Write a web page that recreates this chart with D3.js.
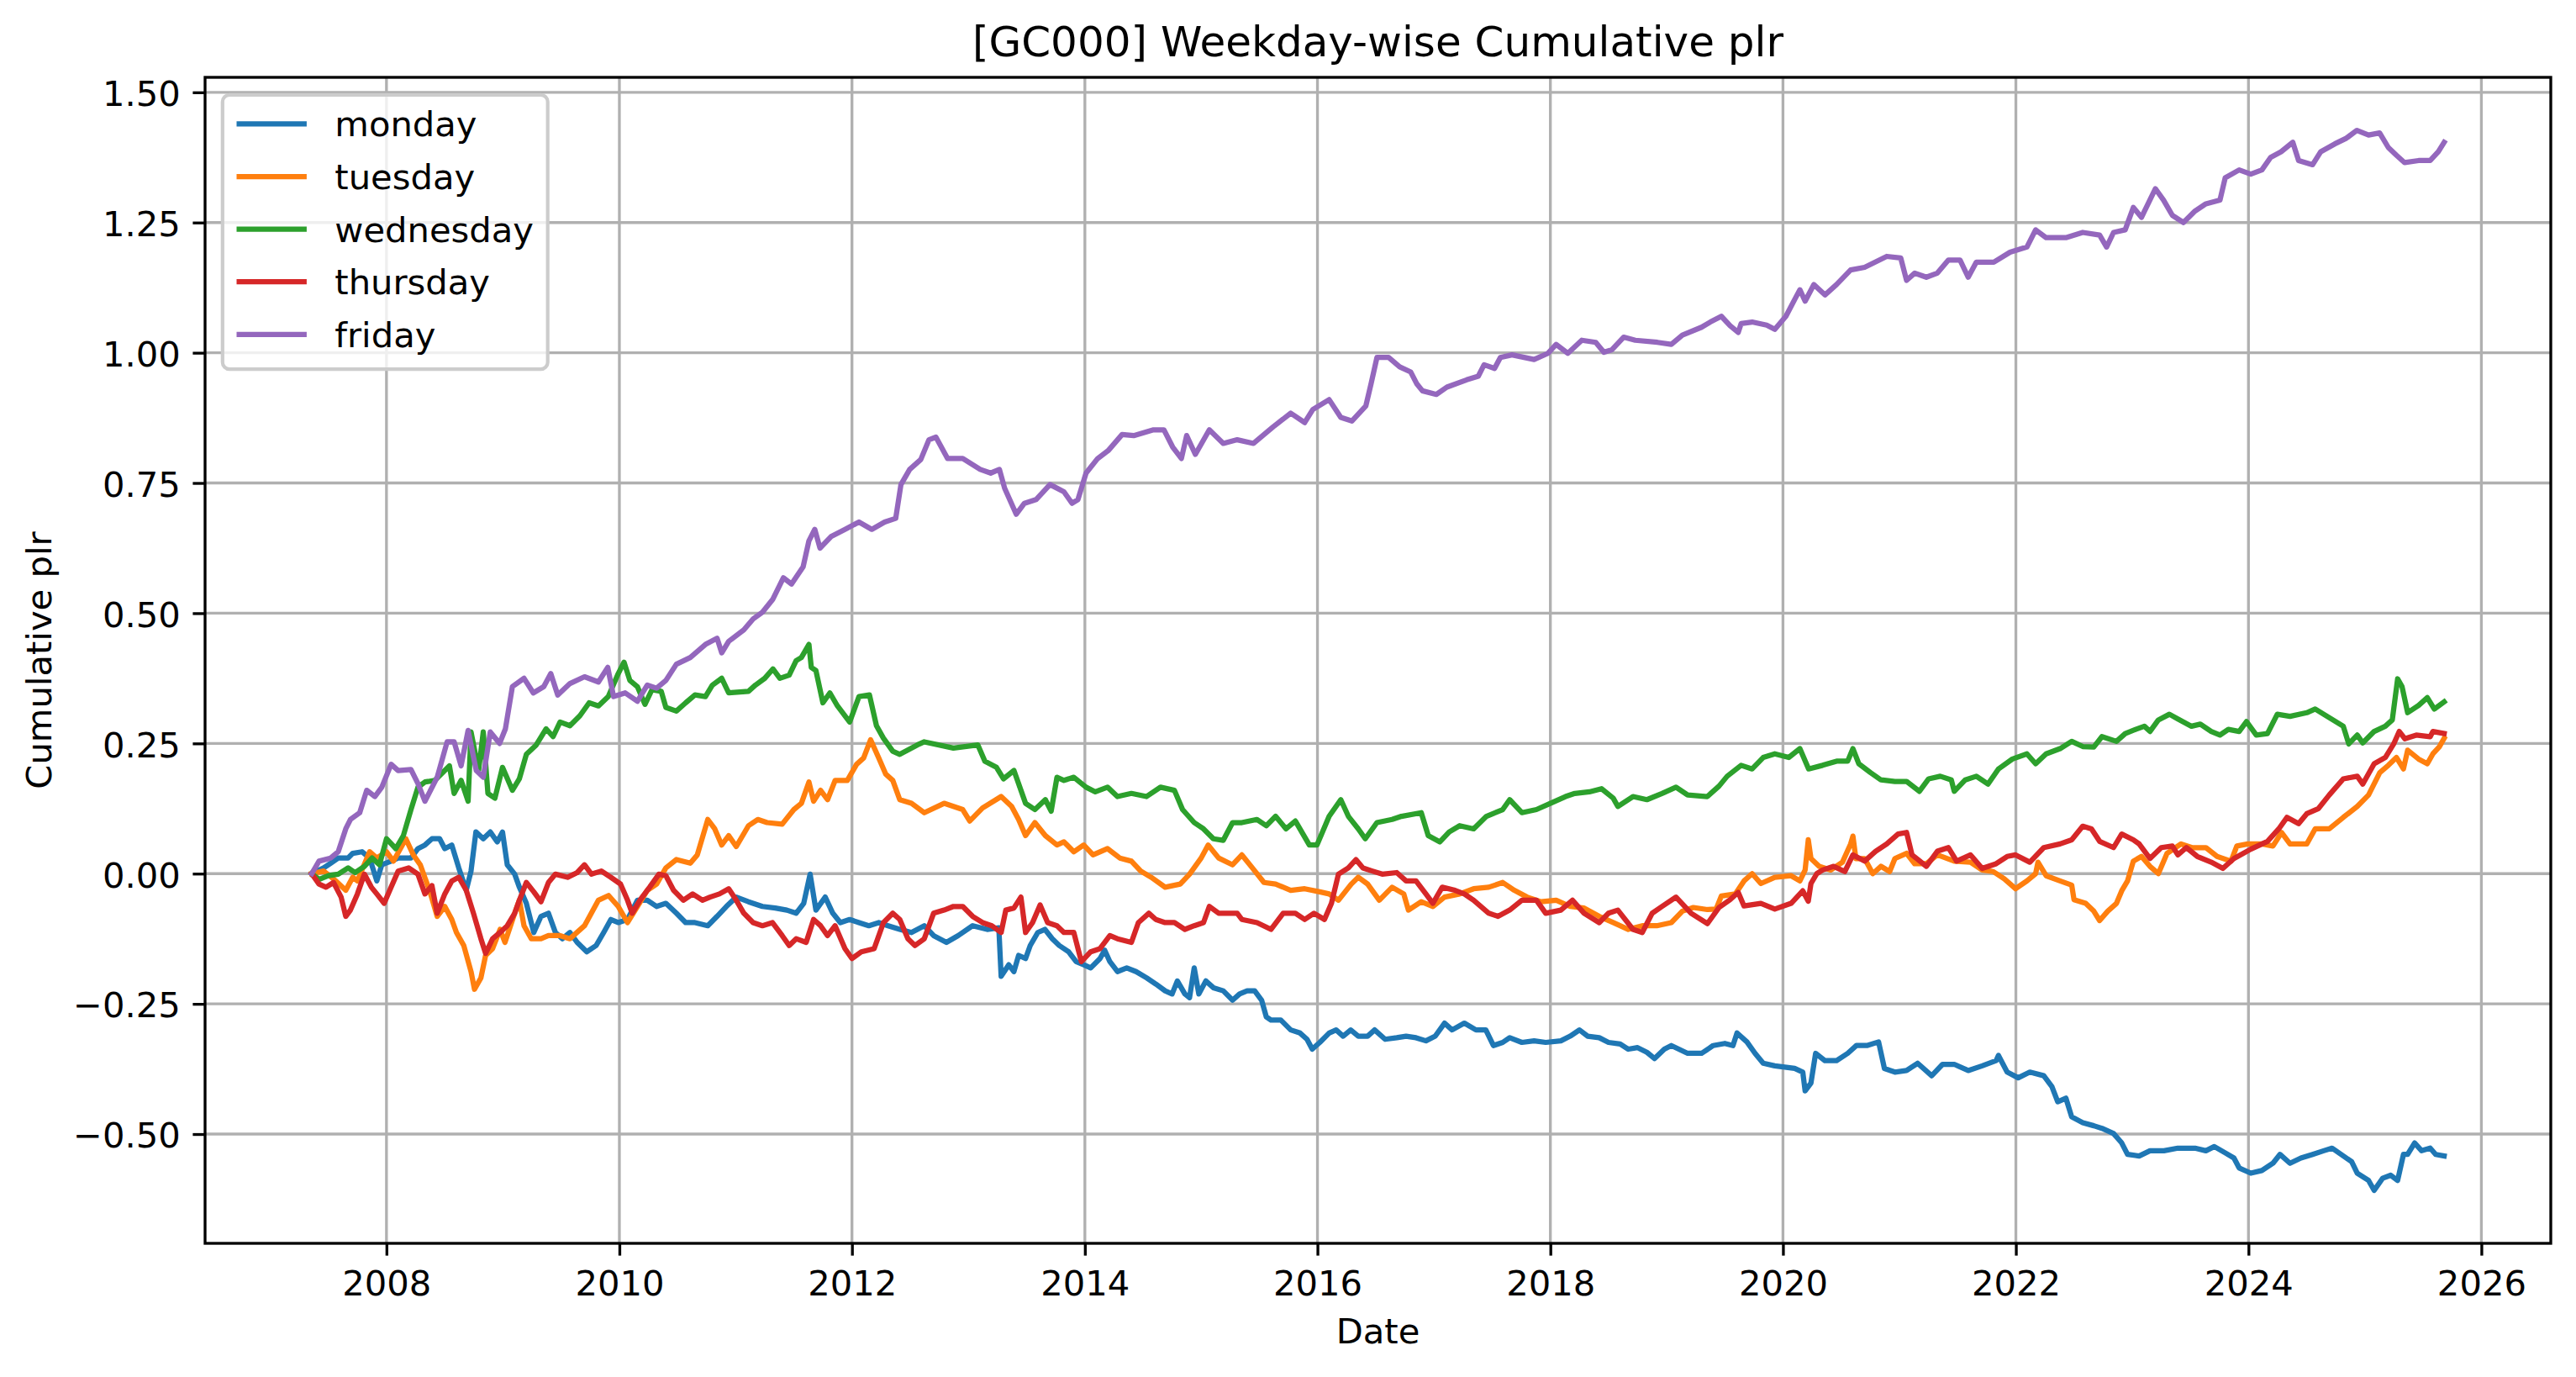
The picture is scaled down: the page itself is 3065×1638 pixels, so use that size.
<!DOCTYPE html>
<html>
<head>
<meta charset="utf-8">
<script src="https://cdn.jsdelivr.net/npm/d3@7"></script>
<style>
    body { margin: 0; background: #ffffff; }
    svg { display: block; }
    text { font-family: 'DejaVu Sans', sans-serif; fill: #000000; }
</style>
</head>
<body>
<svg id="chart"></svg>
<script>
// cumulative plr per weekday, [decimal year, value]
const monday = [[2007.357,0],[2007.46,0.011],[2007.52,0.02],[2007.585,0.03],[2007.67,0.03],[2007.71,0.039],[2007.79,0.042],[2007.855,0.03],[2007.917,-0.014],[2007.96,0.017],[2008.04,0.024],[2008.10,0.03],[2008.21,0.03],[2008.27,0.048],[2008.33,0.055],[2008.39,0.067],[2008.456,0.067],[2008.50,0.048],[2008.56,0.055],[2008.62,0.011],[2008.684,-0.032],[2008.725,0.005],[2008.767,0.08],[2008.83,0.067],[2008.89,0.08],[2008.95,0.061],[2008.995,0.08],[2009.036,0.017],[2009.10,-0.001],[2009.14,-0.026],[2009.20,-0.057],[2009.264,-0.113],[2009.326,-0.082],[2009.39,-0.076],[2009.45,-0.113],[2009.51,-0.125],[2009.575,-0.113],[2009.637,-0.132],[2009.72,-0.15],[2009.80,-0.138],[2009.865,-0.113],[2009.927,-0.088],[2009.99,-0.094],[2010.07,-0.088],[2010.155,-0.051],[2010.24,-0.051],[2010.32,-0.063],[2010.40,-0.057],[2010.49,-0.076],[2010.57,-0.094],[2010.65,-0.094],[2010.76,-0.10],[2010.84,-0.082],[2010.92,-0.063],[2011.005,-0.045],[2011.11,-0.054],[2011.23,-0.063],[2011.34,-0.066],[2011.44,-0.07],[2011.52,-0.076],[2011.585,-0.057],[2011.64,-0.001],[2011.69,-0.07],[2011.77,-0.045],[2011.835,-0.076],[2011.90,-0.094],[2011.98,-0.088],[2012.06,-0.094],[2012.145,-0.10],[2012.23,-0.094],[2012.31,-0.10],[2012.41,-0.107],[2012.51,-0.113],[2012.62,-0.10],[2012.70,-0.119],[2012.81,-0.132],[2012.91,-0.119],[2013.035,-0.10],[2013.16,-0.107],[2013.26,-0.104],[2013.28,-0.197],[2013.345,-0.175],[2013.39,-0.188],[2013.43,-0.157],[2013.49,-0.163],[2013.53,-0.138],[2013.595,-0.113],[2013.656,-0.107],[2013.72,-0.125],[2013.78,-0.138],[2013.86,-0.15],[2013.925,-0.169],[2013.99,-0.175],[2014.05,-0.181],[2014.13,-0.163],[2014.17,-0.147],[2014.215,-0.169],[2014.28,-0.188],[2014.36,-0.181],[2014.44,-0.188],[2014.53,-0.20],[2014.61,-0.212],[2014.69,-0.225],[2014.75,-0.231],[2014.795,-0.206],[2014.86,-0.231],[2014.90,-0.238],[2014.94,-0.181],[2014.98,-0.231],[2015.04,-0.206],[2015.105,-0.219],[2015.19,-0.225],[2015.27,-0.243],[2015.33,-0.231],[2015.395,-0.225],[2015.46,-0.225],[2015.52,-0.243],[2015.56,-0.275],[2015.60,-0.281],[2015.685,-0.281],[2015.77,-0.30],[2015.85,-0.306],[2015.91,-0.318],[2015.955,-0.337],[2016.02,-0.324],[2016.10,-0.306],[2016.16,-0.30],[2016.22,-0.312],[2016.285,-0.30],[2016.35,-0.312],[2016.43,-0.312],[2016.49,-0.30],[2016.58,-0.318],[2016.68,-0.315],[2016.76,-0.312],[2016.845,-0.315],[2016.93,-0.321],[2017.01,-0.312],[2017.09,-0.287],[2017.155,-0.30],[2017.26,-0.287],[2017.36,-0.30],[2017.445,-0.30],[2017.51,-0.33],[2017.59,-0.324],[2017.65,-0.315],[2017.755,-0.324],[2017.86,-0.321],[2017.96,-0.324],[2018.09,-0.321],[2018.17,-0.312],[2018.25,-0.30],[2018.32,-0.312],[2018.42,-0.315],[2018.50,-0.324],[2018.60,-0.327],[2018.67,-0.337],[2018.75,-0.334],[2018.83,-0.343],[2018.895,-0.355],[2018.98,-0.337],[2019.04,-0.33],[2019.18,-0.345],[2019.30,-0.345],[2019.40,-0.33],[2019.50,-0.326],[2019.57,-0.33],[2019.605,-0.306],[2019.69,-0.323],[2019.76,-0.345],[2019.83,-0.364],[2019.93,-0.369],[2020.10,-0.374],[2020.17,-0.381],[2020.19,-0.417],[2020.24,-0.402],[2020.28,-0.345],[2020.36,-0.359],[2020.46,-0.359],[2020.555,-0.345],[2020.63,-0.33],[2020.72,-0.33],[2020.82,-0.323],[2020.87,-0.374],[2020.96,-0.381],[2021.06,-0.378],[2021.155,-0.364],[2021.276,-0.388],[2021.37,-0.366],[2021.47,-0.366],[2021.59,-0.378],[2021.71,-0.369],[2021.83,-0.359],[2021.85,-0.349],[2021.925,-0.381],[2022.02,-0.392],[2022.12,-0.381],[2022.24,-0.388],[2022.31,-0.409],[2022.36,-0.438],[2022.43,-0.431],[2022.48,-0.467],[2022.575,-0.478],[2022.67,-0.484],[2022.74,-0.489],[2022.84,-0.499],[2022.91,-0.517],[2022.96,-0.539],[2023.06,-0.542],[2023.153,-0.532],[2023.273,-0.532],[2023.393,-0.527],[2023.54,-0.527],[2023.634,-0.532],[2023.706,-0.524],[2023.80,-0.536],[2023.875,-0.546],[2023.92,-0.565],[2024.02,-0.575],[2024.115,-0.57],[2024.21,-0.556],[2024.27,-0.539],[2024.356,-0.556],[2024.45,-0.546],[2024.55,-0.539],[2024.645,-0.532],[2024.717,-0.527],[2024.813,-0.542],[2024.885,-0.553],[2024.933,-0.575],[2025.03,-0.589],[2025.078,-0.608],[2025.15,-0.585],[2025.22,-0.579],[2025.28,-0.589],[2025.33,-0.539],[2025.366,-0.539],[2025.426,-0.517],[2025.486,-0.532],[2025.56,-0.527],[2025.607,-0.539],[2025.68,-0.542]];

const tuesday = [[2007.357,0],[2007.46,0.005],[2007.565,-0.014],[2007.65,-0.032],[2007.71,-0.007],[2007.75,-0.014],[2007.855,0.042],[2007.917,0.03],[2008.0,0.042],[2008.06,0.024],[2008.166,0.067],[2008.23,0.036],[2008.29,0.017],[2008.373,-0.035],[2008.435,-0.082],[2008.50,-0.063],[2008.56,-0.088],[2008.60,-0.113],[2008.663,-0.138],[2008.725,-0.188],[2008.755,-0.222],[2008.81,-0.20],[2008.85,-0.157],[2008.91,-0.144],[2008.974,-0.107],[2009.016,-0.132],[2009.10,-0.076],[2009.14,-0.051],[2009.18,-0.10],[2009.243,-0.125],[2009.326,-0.125],[2009.39,-0.119],[2009.49,-0.119],[2009.575,-0.125],[2009.70,-0.10],[2009.82,-0.051],[2009.907,-0.042],[2009.99,-0.063],[2010.07,-0.094],[2010.155,-0.063],[2010.24,-0.032],[2010.32,-0.02],[2010.40,0.011],[2010.49,0.027],[2010.61,0.02],[2010.67,0.036],[2010.76,0.104],[2010.82,0.086],[2010.88,0.055],[2010.94,0.073],[2011.005,0.052],[2011.11,0.092],[2011.19,0.104],[2011.27,0.098],[2011.40,0.095],[2011.50,0.123],[2011.565,0.135],[2011.63,0.176],[2011.67,0.139],[2011.73,0.16],[2011.79,0.142],[2011.855,0.179],[2011.96,0.179],[2012.04,0.21],[2012.10,0.222],[2012.16,0.257],[2012.23,0.222],[2012.29,0.191],[2012.35,0.179],[2012.41,0.142],[2012.51,0.135],[2012.62,0.117],[2012.79,0.135],[2012.95,0.123],[2013.01,0.101],[2013.12,0.126],[2013.28,0.148],[2013.37,0.129],[2013.43,0.104],[2013.49,0.073],[2013.57,0.098],[2013.66,0.073],[2013.76,0.055],[2013.82,0.061],[2013.905,0.042],[2013.99,0.055],[2014.07,0.036],[2014.195,0.048],[2014.30,0.03],[2014.40,0.024],[2014.48,0.005],[2014.57,-0.007],[2014.69,-0.026],[2014.82,-0.02],[2014.90,-0.001],[2015.0,0.03],[2015.06,0.055],[2015.15,0.03],[2015.27,0.017],[2015.35,0.036],[2015.44,0.011],[2015.54,-0.017],[2015.64,-0.02],[2015.77,-0.032],[2015.89,-0.029],[2016.02,-0.035],[2016.10,-0.039],[2016.18,-0.051],[2016.29,-0.02],[2016.35,-0.007],[2016.43,-0.02],[2016.53,-0.051],[2016.64,-0.026],[2016.74,-0.039],[2016.78,-0.07],[2016.89,-0.054],[2016.99,-0.063],[2017.09,-0.045],[2017.22,-0.039],[2017.34,-0.029],[2017.47,-0.026],[2017.59,-0.017],[2017.69,-0.032],[2017.80,-0.045],[2017.92,-0.054],[2018.05,-0.051],[2018.17,-0.063],[2018.29,-0.066],[2018.42,-0.082],[2018.54,-0.094],[2018.67,-0.107],[2018.79,-0.10],[2018.915,-0.10],[2019.04,-0.094],[2019.135,-0.072],[2019.23,-0.065],[2019.35,-0.069],[2019.425,-0.068],[2019.47,-0.043],[2019.59,-0.039],[2019.665,-0.014],[2019.735,0.0],[2019.81,-0.019],[2019.93,-0.007],[2020.07,-0.004],[2020.145,-0.014],[2020.19,0.007],[2020.217,0.065],[2020.24,0.029],[2020.31,0.014],[2020.41,0.007],[2020.51,0.022],[2020.58,0.057],[2020.60,0.072],[2020.625,0.029],[2020.70,0.029],[2020.77,0.0],[2020.84,0.014],[2020.915,0.004],[2020.96,0.029],[2021.06,0.039],[2021.13,0.019],[2021.23,0.019],[2021.325,0.036],[2021.47,0.024],[2021.61,0.022],[2021.71,0.007],[2021.805,0.004],[2021.90,-0.01],[2021.997,-0.029],[2022.095,-0.014],[2022.17,0.0],[2022.19,0.022],[2022.26,-0.004],[2022.38,-0.014],[2022.48,-0.022],[2022.50,-0.05],[2022.60,-0.057],[2022.67,-0.072],[2022.72,-0.09],[2022.79,-0.072],[2022.865,-0.057],[2022.91,-0.033],[2022.96,-0.014],[2023.01,0.024],[2023.08,0.033],[2023.153,0.014],[2023.225,0.0],[2023.30,0.039],[2023.42,0.057],[2023.514,0.05],[2023.634,0.05],[2023.73,0.033],[2023.85,0.024],[2023.90,0.053],[2023.995,0.057],[2024.115,0.057],[2024.21,0.053],[2024.284,0.079],[2024.356,0.057],[2024.50,0.057],[2024.572,0.086],[2024.693,0.086],[2024.813,0.108],[2024.933,0.129],[2025.03,0.151],[2025.126,0.194],[2025.20,0.208],[2025.27,0.223],[2025.33,0.201],[2025.366,0.237],[2025.46,0.22],[2025.535,0.211],[2025.583,0.23],[2025.64,0.244],[2025.68,0.26]];

const wednesday = [[2007.357,0],[2007.42,-0.011],[2007.50,-0.004],[2007.585,-0.001],[2007.67,0.011],[2007.73,0.002],[2007.81,0.014],[2007.876,0.03],[2007.94,0.017],[2008.0,0.067],[2008.08,0.048],[2008.145,0.073],[2008.21,0.123],[2008.27,0.166],[2008.33,0.176],[2008.415,0.179],[2008.50,0.198],[2008.54,0.207],[2008.58,0.154],[2008.64,0.179],[2008.70,0.139],[2008.725,0.272],[2008.79,0.198],[2008.83,0.272],[2008.87,0.154],[2008.93,0.145],[2008.995,0.204],[2009.08,0.16],[2009.14,0.182],[2009.20,0.229],[2009.285,0.247],[2009.37,0.278],[2009.43,0.263],[2009.49,0.291],[2009.575,0.284],[2009.66,0.303],[2009.74,0.328],[2009.82,0.322],[2009.905,0.34],[2009.99,0.384],[2010.04,0.406],[2010.09,0.371],[2010.155,0.359],[2010.22,0.325],[2010.28,0.353],[2010.36,0.35],[2010.40,0.319],[2010.49,0.312],[2010.57,0.328],[2010.65,0.343],[2010.74,0.34],[2010.80,0.362],[2010.88,0.375],[2010.94,0.347],[2011.11,0.35],[2011.17,0.362],[2011.25,0.375],[2011.32,0.393],[2011.38,0.375],[2011.46,0.381],[2011.52,0.409],[2011.565,0.415],[2011.63,0.44],[2011.65,0.396],[2011.69,0.39],[2011.75,0.328],[2011.81,0.347],[2011.875,0.322],[2011.98,0.291],[2012.06,0.34],[2012.15,0.343],[2012.21,0.284],[2012.27,0.26],[2012.35,0.235],[2012.41,0.229],[2012.56,0.247],[2012.62,0.253],[2012.87,0.241],[2013.08,0.247],[2013.14,0.216],[2013.24,0.204],[2013.30,0.182],[2013.39,0.198],[2013.49,0.135],[2013.57,0.123],[2013.66,0.142],[2013.71,0.12],[2013.76,0.185],[2013.82,0.179],[2013.905,0.185],[2014.01,0.166],[2014.09,0.157],[2014.195,0.166],[2014.28,0.148],[2014.40,0.154],[2014.53,0.148],[2014.65,0.166],[2014.77,0.16],[2014.84,0.123],[2014.94,0.098],[2015.02,0.086],[2015.105,0.067],[2015.19,0.064],[2015.27,0.098],[2015.35,0.098],[2015.48,0.104],[2015.56,0.092],[2015.64,0.11],[2015.73,0.086],[2015.81,0.101],[2015.93,0.055],[2015.996,0.055],[2016.10,0.11],[2016.20,0.142],[2016.265,0.11],[2016.35,0.086],[2016.41,0.067],[2016.51,0.098],[2016.64,0.104],[2016.72,0.11],[2016.89,0.117],[2016.95,0.073],[2017.05,0.061],[2017.13,0.08],[2017.22,0.092],[2017.34,0.086],[2017.45,0.11],[2017.59,0.123],[2017.65,0.142],[2017.755,0.117],[2017.88,0.123],[2018.0,0.135],[2018.13,0.148],[2018.21,0.154],[2018.335,0.157],[2018.44,0.163],[2018.54,0.145],[2018.58,0.129],[2018.71,0.148],[2018.83,0.142],[2018.96,0.154],[2019.08,0.166],[2019.18,0.151],[2019.35,0.148],[2019.45,0.168],[2019.52,0.187],[2019.64,0.208],[2019.735,0.201],[2019.83,0.223],[2019.93,0.23],[2020.05,0.223],[2020.145,0.24],[2020.22,0.201],[2020.34,0.208],[2020.46,0.216],[2020.555,0.216],[2020.60,0.24],[2020.65,0.211],[2020.75,0.194],[2020.84,0.18],[2020.96,0.177],[2021.06,0.177],[2021.17,0.158],[2021.25,0.182],[2021.35,0.187],[2021.445,0.18],[2021.47,0.158],[2021.565,0.18],[2021.66,0.187],[2021.76,0.172],[2021.85,0.201],[2021.97,0.22],[2022.095,0.23],[2022.17,0.211],[2022.26,0.23],[2022.38,0.24],[2022.48,0.254],[2022.575,0.244],[2022.67,0.243],[2022.74,0.263],[2022.865,0.254],[2022.94,0.269],[2023.03,0.277],[2023.105,0.283],[2023.153,0.273],[2023.225,0.295],[2023.32,0.306],[2023.393,0.297],[2023.51,0.283],[2023.586,0.287],[2023.68,0.273],[2023.755,0.266],[2023.827,0.277],[2023.92,0.273],[2023.983,0.292],[2024.067,0.266],[2024.163,0.269],[2024.247,0.306],[2024.356,0.302],[2024.50,0.309],[2024.572,0.316],[2024.645,0.306],[2024.813,0.283],[2024.86,0.249],[2024.933,0.266],[2024.98,0.251],[2025.078,0.273],[2025.174,0.283],[2025.234,0.295],[2025.28,0.374],[2025.318,0.359],[2025.366,0.309],[2025.46,0.323],[2025.535,0.338],[2025.595,0.316],[2025.68,0.33]];

const thursday = [[2007.357,0],[2007.42,-0.02],[2007.48,-0.026],[2007.545,-0.017],[2007.61,-0.045],[2007.65,-0.082],[2007.69,-0.07],[2007.75,-0.039],[2007.81,-0.001],[2007.87,-0.026],[2007.917,-0.039],[2007.98,-0.057],[2008.04,-0.026],[2008.10,0.005],[2008.19,0.011],[2008.27,-0.001],[2008.33,-0.039],[2008.39,-0.023],[2008.435,-0.076],[2008.50,-0.039],[2008.56,-0.014],[2008.62,-0.007],[2008.684,-0.032],[2008.746,-0.076],[2008.81,-0.125],[2008.85,-0.153],[2008.91,-0.125],[2008.974,-0.113],[2009.036,-0.10],[2009.10,-0.076],[2009.14,-0.051],[2009.20,-0.017],[2009.264,-0.035],[2009.326,-0.054],[2009.39,-0.017],[2009.45,-0.001],[2009.554,-0.007],[2009.637,0.002],[2009.70,0.017],[2009.76,-0.001],[2009.845,0.005],[2009.927,-0.007],[2010.01,-0.02],[2010.07,-0.051],[2010.11,-0.076],[2010.176,-0.051],[2010.26,-0.026],[2010.34,-0.001],[2010.40,-0.004],[2010.466,-0.032],[2010.55,-0.051],[2010.63,-0.039],[2010.715,-0.051],[2010.78,-0.045],[2010.86,-0.039],[2010.94,-0.029],[2011.005,-0.051],[2011.07,-0.076],[2011.15,-0.094],[2011.23,-0.10],[2011.316,-0.094],[2011.40,-0.119],[2011.46,-0.138],[2011.52,-0.125],[2011.606,-0.132],[2011.67,-0.088],[2011.73,-0.10],[2011.79,-0.119],[2011.855,-0.10],[2011.94,-0.144],[2012.0,-0.163],[2012.08,-0.15],[2012.19,-0.144],[2012.27,-0.094],[2012.35,-0.076],[2012.41,-0.088],[2012.48,-0.125],[2012.54,-0.138],[2012.62,-0.125],[2012.70,-0.076],[2012.79,-0.07],[2012.87,-0.063],[2012.95,-0.063],[2013.035,-0.082],[2013.12,-0.094],[2013.20,-0.10],[2013.28,-0.113],[2013.32,-0.07],[2013.39,-0.066],[2013.45,-0.045],[2013.49,-0.113],[2013.55,-0.094],[2013.615,-0.06],[2013.68,-0.094],[2013.76,-0.10],[2013.82,-0.113],[2013.905,-0.113],[2013.97,-0.169],[2014.05,-0.15],[2014.13,-0.144],[2014.215,-0.119],[2014.28,-0.125],[2014.40,-0.132],[2014.46,-0.094],[2014.55,-0.076],[2014.61,-0.088],[2014.69,-0.094],[2014.77,-0.094],[2014.86,-0.107],[2014.94,-0.10],[2015.02,-0.094],[2015.07,-0.063],[2015.15,-0.076],[2015.23,-0.076],[2015.31,-0.076],[2015.35,-0.088],[2015.48,-0.094],[2015.60,-0.107],[2015.705,-0.076],[2015.81,-0.076],[2015.89,-0.088],[2015.97,-0.076],[2016.06,-0.088],[2016.12,-0.057],[2016.18,-0.001],[2016.265,0.011],[2016.33,0.027],[2016.39,0.011],[2016.47,0.005],[2016.555,-0.001],[2016.68,0.002],[2016.76,-0.014],[2016.845,-0.014],[2016.93,-0.039],[2016.99,-0.057],[2017.07,-0.026],[2017.18,-0.032],[2017.26,-0.039],[2017.34,-0.051],[2017.47,-0.076],[2017.55,-0.082],[2017.65,-0.07],[2017.755,-0.051],[2017.88,-0.051],[2017.96,-0.076],[2018.09,-0.07],[2018.19,-0.051],[2018.29,-0.076],[2018.42,-0.094],[2018.50,-0.076],[2018.58,-0.07],[2018.71,-0.107],[2018.79,-0.113],[2018.875,-0.076],[2018.96,-0.063],[2019.08,-0.045],[2019.21,-0.076],[2019.35,-0.096],[2019.45,-0.065],[2019.545,-0.05],[2019.615,-0.036],[2019.665,-0.062],[2019.81,-0.057],[2019.93,-0.068],[2020.07,-0.057],[2020.17,-0.033],[2020.217,-0.053],[2020.24,-0.019],[2020.29,0.0],[2020.34,0.007],[2020.435,0.014],[2020.53,0.004],[2020.60,0.036],[2020.70,0.024],[2020.795,0.043],[2020.89,0.057],[2020.987,0.076],[2021.06,0.079],[2021.107,0.036],[2021.23,0.014],[2021.325,0.043],[2021.42,0.05],[2021.49,0.024],[2021.61,0.036],[2021.71,0.01],[2021.83,0.019],[2021.925,0.033],[2021.997,0.036],[2022.12,0.022],[2022.24,0.05],[2022.38,0.057],[2022.48,0.065],[2022.575,0.091],[2022.65,0.086],[2022.72,0.062],[2022.84,0.05],[2022.91,0.076],[2023.01,0.065],[2023.06,0.057],[2023.153,0.029],[2023.25,0.05],[2023.345,0.053],[2023.393,0.036],[2023.466,0.05],[2023.56,0.033],[2023.68,0.022],[2023.78,0.01],[2023.875,0.029],[2024.02,0.047],[2024.163,0.062],[2024.26,0.086],[2024.33,0.108],[2024.43,0.096],[2024.50,0.115],[2024.60,0.125],[2024.693,0.151],[2024.813,0.182],[2024.933,0.187],[2024.98,0.172],[2025.078,0.211],[2025.174,0.223],[2025.246,0.249],[2025.294,0.273],[2025.342,0.259],[2025.44,0.266],[2025.56,0.263],[2025.583,0.273],[2025.68,0.269]];

const friday = [[2007.357,0],[2007.42,0.024],[2007.52,0.03],[2007.585,0.042],[2007.65,0.086],[2007.69,0.104],[2007.77,0.117],[2007.83,0.16],[2007.90,0.148],[2007.96,0.166],[2008.04,0.21],[2008.10,0.198],[2008.21,0.2],[2008.27,0.173],[2008.33,0.139],[2008.435,0.185],[2008.52,0.253],[2008.58,0.253],[2008.64,0.207],[2008.70,0.275],[2008.77,0.198],[2008.83,0.185],[2008.89,0.272],[2008.97,0.25],[2009.02,0.278],[2009.08,0.359],[2009.18,0.375],[2009.26,0.347],[2009.35,0.359],[2009.41,0.384],[2009.47,0.343],[2009.575,0.365],[2009.70,0.378],[2009.82,0.368],[2009.90,0.396],[2009.95,0.34],[2010.05,0.347],[2010.155,0.331],[2010.24,0.362],[2010.32,0.356],[2010.40,0.371],[2010.49,0.402],[2010.61,0.415],[2010.74,0.44],[2010.84,0.452],[2010.88,0.424],[2010.94,0.446],[2011.07,0.468],[2011.15,0.489],[2011.23,0.502],[2011.32,0.527],[2011.41,0.568],[2011.48,0.556],[2011.58,0.589],[2011.63,0.639],[2011.68,0.661],[2011.725,0.625],[2011.82,0.647],[2011.94,0.661],[2012.06,0.675],[2012.17,0.661],[2012.28,0.675],[2012.375,0.682],[2012.42,0.747],[2012.495,0.776],[2012.59,0.795],[2012.66,0.833],[2012.72,0.838],[2012.82,0.797],[2012.95,0.797],[2013.10,0.776],[2013.19,0.769],[2013.265,0.776],[2013.31,0.74],[2013.41,0.69],[2013.48,0.711],[2013.58,0.718],[2013.70,0.747],[2013.82,0.733],[2013.89,0.711],[2013.94,0.718],[2014.01,0.769],[2014.11,0.797],[2014.20,0.812],[2014.32,0.843],[2014.42,0.841],[2014.59,0.852],[2014.68,0.852],[2014.755,0.819],[2014.83,0.797],[2014.875,0.841],[2014.95,0.805],[2015.07,0.852],[2015.19,0.826],[2015.31,0.833],[2015.45,0.826],[2015.62,0.858],[2015.77,0.884],[2015.89,0.866],[2015.96,0.891],[2016.10,0.91],[2016.20,0.876],[2016.295,0.869],[2016.415,0.898],[2016.46,0.941],[2016.51,0.991],[2016.61,0.991],[2016.705,0.973],[2016.80,0.963],[2016.85,0.941],[2016.90,0.927],[2017.02,0.92],[2017.11,0.934],[2017.28,0.948],[2017.38,0.955],[2017.43,0.977],[2017.52,0.97],[2017.57,0.991],[2017.67,0.996],[2017.86,0.987],[2017.98,0.999],[2018.05,1.016],[2018.15,0.999],[2018.27,1.024],[2018.39,1.02],[2018.46,1.001],[2018.53,1.006],[2018.63,1.03],[2018.73,1.024],[2018.92,1.02],[2019.04,1.016],[2019.135,1.034],[2019.30,1.049],[2019.375,1.059],[2019.47,1.07],[2019.545,1.052],[2019.615,1.039],[2019.64,1.056],[2019.735,1.059],[2019.86,1.053],[2019.93,1.045],[2020.025,1.07],[2020.10,1.102],[2020.145,1.121],[2020.19,1.099],[2020.265,1.131],[2020.36,1.111],[2020.46,1.131],[2020.58,1.159],[2020.70,1.164],[2020.89,1.185],[2021.01,1.182],[2021.06,1.139],[2021.13,1.153],[2021.23,1.145],[2021.325,1.153],[2021.42,1.178],[2021.52,1.178],[2021.59,1.145],[2021.66,1.174],[2021.81,1.174],[2021.95,1.193],[2022.095,1.203],[2022.17,1.236],[2022.26,1.221],[2022.43,1.221],[2022.575,1.231],[2022.72,1.226],[2022.78,1.203],[2022.84,1.231],[2022.94,1.236],[2023.01,1.279],[2023.08,1.26],[2023.20,1.315],[2023.27,1.293],[2023.345,1.264],[2023.44,1.25],[2023.54,1.272],[2023.634,1.286],[2023.755,1.293],[2023.80,1.336],[2023.92,1.351],[2024.02,1.343],[2024.115,1.351],[2024.19,1.375],[2024.28,1.386],[2024.38,1.404],[2024.43,1.369],[2024.55,1.361],[2024.62,1.386],[2024.74,1.401],[2024.84,1.412],[2024.93,1.427],[2025.03,1.418],[2025.125,1.422],[2025.20,1.394],[2025.27,1.379],[2025.34,1.365],[2025.46,1.369],[2025.56,1.369],[2025.63,1.386],[2025.68,1.404]];

const seriesNames = ['monday', 'tuesday', 'wednesday', 'thursday', 'friday'];
const seriesColors = ['#1f77b4', '#ff7f0e', '#2ca02c', '#d62728', '#9467bd'];
const xTickYears = [2008, 2010, 2012, 2014, 2016, 2018, 2020, 2022, 2024, 2026];
const yTickValues = [-0.5, -0.25, 0, 0.25, 0.5, 0.75, 1.0, 1.25, 1.5];

let width = 3065;
let height = 1638;
let margin = { left: 244, right: 30, top: 92, bottom: 159 };
let fontSize = 41.7;
let lineW = 3.33;

function toDate(yr) {
    let y = Math.floor(yr),
        start = Date.UTC(y, 0, 1),
        end = Date.UTC(y + 1, 0, 1);
    return new Date(start + (yr - y) * (end - start));
}

let allSeries = [monday, tuesday, wednesday, thursday, friday].map((pts, i) => {
    return {
        name: seriesNames[i],
        color: seriesColors[i],
        values: pts.map((p) => ({ date: toDate(p[0]), value: p[1] }))
    };
});

let svg = d3.select('#chart')
    .attr('width', width)
    .attr('height', height);

svg.append('rect').attr('width', width).attr('height', height).attr('fill', '#ffffff');

let plotLeft = margin.left,
    plotRight = width - margin.right,
    plotTop = margin.top,
    plotBottom = height - margin.bottom;

// matplotlib style 5% margins around the data
let allPts = allSeries.flatMap((s) => s.values);
let tExtent = d3.extent(allPts, (d) => d.date.getTime());
let vExtent = d3.extent(allPts, (d) => d.value);
let tPad = (tExtent[1] - tExtent[0]) * 0.05;
let vPad = (vExtent[1] - vExtent[0]) * 0.05;

let x = d3.scaleUtc()
    .domain([new Date(tExtent[0] - tPad), new Date(tExtent[1] + tPad)])
    .range([plotLeft, plotRight]);

let y = d3.scaleLinear()
    .domain([vExtent[0] - vPad, vExtent[1] + vPad])
    .range([plotBottom, plotTop]);

let xTicks = xTickYears.map((yr) => new Date(Date.UTC(yr, 0, 1)));

// grid
let grid = svg.append('g').attr('class', 'grid');
grid.selectAll('.gx')
    .data(xTicks)
    .enter().append('line')
    .attr('x1', (d) => x(d)).attr('x2', (d) => x(d))
    .attr('y1', plotTop).attr('y2', plotBottom)
    .attr('stroke', '#b0b0b0').attr('stroke-width', lineW);
grid.selectAll('.gy')
    .data(yTickValues)
    .enter().append('line')
    .attr('x1', plotLeft).attr('x2', plotRight)
    .attr('y1', (d) => y(d)).attr('y2', (d) => y(d))
    .attr('stroke', '#b0b0b0').attr('stroke-width', lineW);

// series lines
let line = d3.line()
    .x((d) => x(d.date))
    .y((d) => y(d.value));

svg.append('g').selectAll('path')
    .data(allSeries)
    .enter().append('path')
    .attr('d', (s) => line(s.values))
    .attr('fill', 'none')
    .attr('stroke', (s) => s.color)
    .attr('stroke-width', 6.25)
    .attr('stroke-linejoin', 'round')
    .attr('stroke-linecap', 'square');

// axes
let xAxis = d3.axisBottom(x)
    .tickValues(xTicks)
    .tickFormat(d3.utcFormat('%Y'))
    .tickSizeInner(14.6)
    .tickSizeOuter(0)
    .tickPadding(14.6);

let yAxis = d3.axisLeft(y)
    .tickValues(yTickValues)
    .tickFormat(d3.format('.2f'))
    .tickSizeInner(14.6)
    .tickSizeOuter(0)
    .tickPadding(14.6);

let gx = svg.append('g')
    .attr('transform', 'translate(0,' + plotBottom + ')')
    .call(xAxis);
let gy = svg.append('g')
    .attr('transform', 'translate(' + plotLeft + ',0)')
    .call(yAxis);

[gx, gy].forEach((g) => {
    g.select('.domain').remove();
    g.selectAll('.tick line').attr('stroke', '#000000').attr('stroke-width', lineW);
    g.selectAll('.tick text')
        .attr('font-family', 'DejaVu Sans')
        .attr('font-size', fontSize)
        .attr('fill', '#000000');
});
gx.selectAll('.tick text').attr('dy', '0.78em');
gy.selectAll('.tick text').attr('dy', '0.38em');

// spines
svg.append('rect')
    .attr('x', plotLeft).attr('y', plotTop)
    .attr('width', plotRight - plotLeft)
    .attr('height', plotBottom - plotTop)
    .attr('fill', 'none')
    .attr('stroke', '#000000')
    .attr('stroke-width', lineW);

// title and axis labels
svg.append('text')
    .attr('x', (plotLeft + plotRight) / 2)
    .attr('y', plotTop - 25)
    .attr('text-anchor', 'middle')
    .attr('font-size', 50)
    .text('[GC000] Weekday-wise Cumulative plr');

svg.append('text')
    .attr('x', (plotLeft + plotRight) / 2)
    .attr('y', 1598)
    .attr('text-anchor', 'middle')
    .attr('font-size', fontSize)
    .text('Date');

svg.append('text')
    .attr('transform', 'translate(61,' + (plotTop + plotBottom) / 2 + ') rotate(-90)')
    .attr('text-anchor', 'middle')
    .attr('font-size', fontSize)
    .text('Cumulative plr');

// legend
let legendX = plotLeft + 20.8,
    legendY = plotTop + 20.8,
    rowH = 62.6,
    pad = 16.7,
    handleLen = 83.4,
    textGap = 33.4;

let legend = svg.append('g').attr('transform', 'translate(' + legendX + ',' + legendY + ')');
let legendBox = legend.append('rect')
    .attr('rx', 8.3).attr('ry', 8.3)
    .attr('fill', '#ffffff').attr('fill-opacity', 0.8)
    .attr('stroke', '#cccccc').attr('stroke-width', 4.17);

let rows = legend.selectAll('.row')
    .data(allSeries)
    .enter().append('g')
    .attr('transform', (d, i) => 'translate(' + pad + ',' + (34.6 + i * rowH) + ')');

rows.append('line')
    .attr('x1', 0).attr('x2', handleLen)
    .attr('stroke', (d) => d.color)
    .attr('stroke-width', 6.25);

rows.append('text')
    .attr('x', handleLen + textGap)
    .attr('y', 15)
    .attr('font-size', fontSize)
    .text((d) => d.name);

let maxText = d3.max(rows.selectAll('text').nodes(), (n) => n.getComputedTextLength());
legendBox
    .attr('width', pad + handleLen + textGap + maxText + pad)
    .attr('height', 34.6 + 4 * rowH + 41.4);
</script>
</body>
</html>
